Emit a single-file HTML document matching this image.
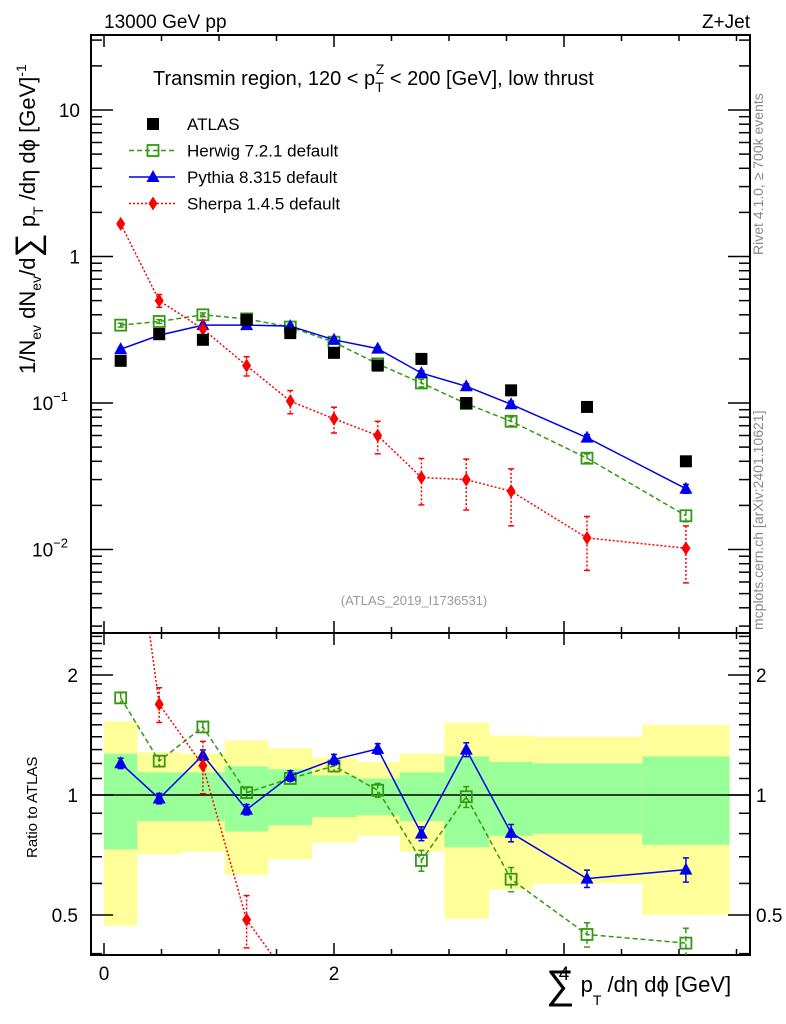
<!DOCTYPE html>
<html><head><meta charset="utf-8"><style>
body{margin:0;background:#fff;width:786px;height:1024px;overflow:hidden}
svg{font-family:"Liberation Sans",sans-serif;display:block}
</style></head><body>
<svg id="c" width="786" height="1024" viewBox="0 0 786 1024" xmlns="http://www.w3.org/2000/svg">
<g id="bands"></g>
<g id="axes"></g>
<g id="marks"></g>
<text x="104" y="28" font-size="19">13000 GeV pp</text>
<text x="750" y="28" font-size="19" text-anchor="end">Z+Jet</text>
<text x="153" y="85" font-size="20">Transmin region, 120 &lt; p<tspan dy="7" font-size="14">T</tspan><tspan dx="-8" dy="-18" font-size="14">Z</tspan><tspan dy="11"> &lt; 200 [GeV], low thrust</tspan></text>
<text x="414" y="605" font-size="13" fill="#999" text-anchor="middle">(ATLAS_2019_I1736531)</text>
<text transform="translate(763,255) rotate(-90)" font-size="14" fill="#888">Rivet 4.1.0, ≥ 700k events</text>
<text transform="translate(763,630) rotate(-90)" font-size="14" fill="#888">mcplots.cern.ch [arXiv:2401.10621]</text>
<text transform="translate(35,374) rotate(-90)" font-size="22">1/N<tspan font-size="14" dy="6">ev</tspan><tspan dy="-6"> dN</tspan><tspan font-size="14" dy="6">ev</tspan><tspan dy="-6">/d</tspan><tspan font-size="34" dy="4">∑</tspan><tspan dy="-4"> p</tspan><tspan font-size="14" dy="8">T</tspan><tspan dy="-8"> /dη dϕ  [GeV]</tspan><tspan font-size="14" dy="-9">-1</tspan></text>
<text transform="translate(37,858) rotate(-90)" font-size="15">Ratio to ATLAS</text>
<text x="546" y="998" font-size="22"><tspan font-size="40">∑</tspan><tspan dy="-6"> p</tspan><tspan font-size="14" dy="13">T</tspan><tspan dy="-13"> /dη dϕ [GeV]</tspan></text>
<g id="legend"></g>
</svg>
<script>
const xCenters=[0.145,0.48,0.86,1.24,1.62,2.0,2.38,2.76,3.15,3.54,4.2,5.06];
const binEdges=[0,0.29,0.67,1.05,1.43,1.81,2.20,2.57,2.96,3.35,3.73,4.68,5.44];
const atlas=[0.194,0.296,0.27,0.37,0.30,0.22,0.18,0.20,0.10,0.122,0.094,0.040];
const herwig=[0.34,0.36,0.40,0.375,0.33,0.26,0.185,0.137,0.099,0.075,0.042,0.017];
const pythia=[0.233,0.29,0.34,0.34,0.335,0.27,0.235,0.16,0.13,0.098,0.058,0.026];
const sherpa=[1.67,0.50,0.32,0.18,0.103,0.078,0.06,0.031,0.030,0.025,0.012,0.0102];
const herwigErr=[0.03,0.03,0.03,0.03,0.03,0.03,0.04,0.06,0.06,0.07,0.07,0.09];
const pythiaErr=[0.03,0.03,0.03,0.03,0.03,0.03,0.03,0.04,0.04,0.05,0.05,0.07];
const sherpaErr=[0.03,0.1,0.15,0.15,0.18,0.2,0.25,0.35,0.38,0.42,0.4,0.42];
const bandInnerHi=[1.27,1.14,1.14,1.18,1.16,1.12,1.10,1.14,1.25,1.21,1.20,1.25];
const bandInnerLo=[0.73,0.86,0.86,0.81,0.84,0.88,0.89,0.86,0.74,0.79,0.80,0.75];
const bandOuterHi=[1.53,1.28,1.27,1.37,1.31,1.24,1.21,1.27,1.52,1.41,1.40,1.50];
const bandOuterLo=[0.47,0.71,0.72,0.63,0.69,0.76,0.79,0.72,0.49,0.58,0.60,0.50];
const xTicks=[0,2,4];

const NS="http://www.w3.org/2000/svg";
const L=91,R=750,T=35,MB=633,RB=955;
const X=v=>104+v*115;
const Y=v=>110-(Math.log10(v)-1)*146.5;
const RY=v=>795-Math.log2(v)*120;
function el(tag,at,parent){const e=document.createElementNS(NS,tag);for(const k in at)e.setAttribute(k,at[k]);parent.appendChild(e);return e;}
const ax=document.getElementById('axes'),bands=document.getElementById('bands'),mk=document.getElementById('marks');

for(let i=0;i<bandOuterHi.length;i++){
 const r1=el('rect',{x:X(binEdges[i]),width:X(binEdges[i+1])-X(binEdges[i]),y:RY(bandOuterHi[i]),height:RY(bandOuterLo[i])-RY(bandOuterHi[i]),fill:'#ffff99'},bands);
 
 
 const r2=el('rect',{x:X(binEdges[i]),width:X(binEdges[i+1])-X(binEdges[i]),y:RY(bandInnerHi[i]),height:RY(bandInnerLo[i])-RY(bandInnerHi[i]),fill:'#99ff99'},bands);
 
 
}
const f1=el('rect',{x:L,y:T,width:R-L,height:MB-T,fill:'none',stroke:'#000','stroke-width':2},ax);


const f2=el('rect',{x:L,y:MB,width:R-L,height:RB-MB,fill:'none',stroke:'#000','stroke-width':2},ax);


el('line',{x1:L,x2:R,y1:RY(1),y2:RY(1),stroke:'#000','stroke-width':1.5},ax);
for(let v=0;v<=5.5;v+=0.5){const maj=Math.abs(v%2)<1e-9,len=maj?12:6;
 for(const [y0,d] of [[T,1],[MB,-1],[MB,1],[RB,-1]]) el('line',{x1:X(v),x2:X(v),y1:y0,y2:y0+d*len,stroke:'#000','stroke-width':1.5},ax);}
xTicks.forEach(v=>{const t=el('text',{x:X(v),y:980,'font-size':19,'text-anchor':'middle'},ax);t.textContent=v;
 
 });
for(let e=-3;e<=1;e++)for(let m=1;m<10;m++){const v=m*Math.pow(10,e),y=Y(v);if(y<T||y>MB)continue;const len=m==1?22:11;
 el('line',{x1:L,x2:L+len,y1:y,y2:y,stroke:'#000','stroke-width':1.5},ax);el('line',{x1:R,x2:R-len,y1:y,y2:y,stroke:'#000','stroke-width':1.5},ax);}
[[10,"10",""],[1,"1",""],[0.1,"10","−1"],[0.01,"10","−2"]].forEach(([v,b,s])=>{const t=el('text',{x:80,y:Y(v)+7,'font-size':19,'text-anchor':'end'},ax);
 t.textContent=b;if(s){t.setAttribute('x',68);const sp=el('tspan',{dy:-9,'font-size':13},t);sp.textContent=s;}
 
 });
for(let k=4;k<=25;k++){const v=k/10,y=RY(v);if(y<MB||y>RB)continue;const maj=(k==5||k==10||k==20),len=maj?22:11;
 el('line',{x1:L,x2:L+len,y1:y,y2:y,stroke:'#000','stroke-width':1.5},ax);el('line',{x1:R,x2:R-len,y1:y,y2:y,stroke:'#000','stroke-width':1.5},ax);}
[[2,"2"],[1,"1"],[0.5,"0.5"]].forEach(([v,s])=>{for(const [x,a] of [[78,'end'],[756,'start']]){const t=el('text',{x:x,y:RY(v)+7,'font-size':19,'text-anchor':a},ax);t.textContent=s;
 
 }});

const defs=el('defs',{},document.getElementById('c'));
const cp1=el('clipPath',{id:'cm'},defs);el('rect',{x:L,y:T,width:R-L,height:MB-T},cp1);
const cp2=el('clipPath',{id:'cr'},defs);el('rect',{x:L,y:MB,width:R-L,height:RB-MB},cp2);
const gm=el('g',{'clip-path':'url(#cm)'},mk),gr=el('g',{'clip-path':'url(#cr)'},mk);

function marker(g,type,x,y,col){
 if(type=='sq')return el('rect',{x:x-6,y:y-6,width:12,height:12,fill:'#000'},g);
 if(type=='osq')return el('rect',{x:x-5.5,y:y-5.5,width:11,height:11,fill:'none',stroke:col,'stroke-width':1.8},g);
 if(type=='tri')return el('polygon',{points:`${x},${y-7} ${x-6.5},${y+5} ${x+6.5},${y+5}`,fill:col},g);
 return el('polygon',{points:`${x},${y-7} ${x-4.5},${y} ${x},${y+7} ${x+4.5},${y}`,fill:col},g);
}
function series(vals,errs,col,dash,type,name){
 const pm=vals.map((v,i)=>[X(xCenters[i]),Y(v)]);
 const pr=vals.map((v,i)=>[X(xCenters[i]),RY(v/atlas[i])]);
 [[gm,pm,Y,v=>v,MB],[gr,pr,RY,(v,i)=>v/atlas[i],RB]].forEach(([g,pts,F,tr,bot])=>{
  const pl=el('polyline',{points:pts.map(p=>p.join(',')).join(' '),fill:'none',stroke:col,'stroke-width':1.5,'stroke-dasharray':dash},g);
  
  
  vals.forEach((v,i)=>{if(pts[i][1]>bot||pts[i][1]<T)return;
   const r=tr(v,i),e=errs[i],y1=F(r*(1+e)),y2=F(r*(1-e)),x=pts[i][0];
   el('line',{x1:x,x2:x,y1:y1,y2:y2,stroke:col,'stroke-width':1.5,'stroke-dasharray':dash},g);
   el('line',{x1:x-3,x2:x+3,y1:y1,y2:y1,stroke:col,'stroke-width':1.5},g);
   el('line',{x1:x-3,x2:x+3,y1:y2,y2:y2,stroke:col,'stroke-width':1.5},g);
   const m=marker(g,type,x,pts[i][1],col);
   
   });
 });
}
series(herwig,herwigErr,'#339911','5,3','osq','herwig');
series(pythia,pythiaErr,'#0000ee','','tri','pythia');
series(sherpa,sherpaErr,'#ff0000','2,2','dia','sherpa');
atlas.forEach((v,i)=>{const m=marker(gm,'sq',X(xCenters[i]),Y(v),'#000');
 
 });

const lg=document.getElementById('legend');
[['ATLAS','sq','#000',''],['Herwig 7.2.1 default','osq','#339911','5,3'],['Pythia 8.315 default','tri','#0000ee',''],['Sherpa 1.4.5 default','dia','#ff0000','2,2']].forEach(([lab,t,c,d],i)=>{
 const y=124+i*26.5;
 if(t!='sq')el('line',{x1:129,x2:175,y1:y,y2:y,stroke:c,'stroke-width':1.5,'stroke-dasharray':d},lg);
 marker(lg,t,153,y,c);
 const tx=el('text',{x:187,y:y+6,'font-size':17},lg);tx.textContent=lab;
 
 
});
</script>
</body></html>
